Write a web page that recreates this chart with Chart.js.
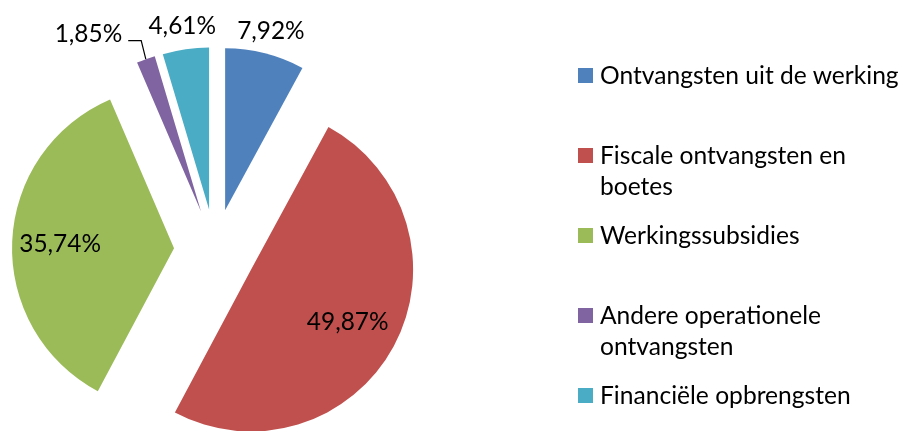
<!DOCTYPE html>
<html><head><meta charset="utf-8">
<script src="https://cdn.jsdelivr.net/npm/chart.js@4.4.1/dist/chart.umd.min.js"></script>
<style>
html,body{margin:0;padding:0;background:#fff;overflow:hidden;}
#wrap{position:relative;width:902px;height:431px;overflow:hidden;}
#chart{position:absolute;left:0;top:0;}
#legend{position:absolute;left:0;top:0;width:902px;height:431px;pointer-events:none;}
.item{position:absolute;left:578px;width:324px;font-family:Lato,"Open Sans",sans-serif;font-size:24.6px;line-height:31px;color:#000;}
.sw{position:absolute;left:0;top:8.7px;width:15px;height:15px;}
.tx{position:absolute;left:22px;top:0;width:310px;white-space:normal;}
</style></head>
<body><div id="wrap"><canvas id="chart" width="902" height="431"></canvas><div id="legend"></div></div>
<script>
const categories = ['Ontvangsten uit de werking','Fiscale ontvangsten en boetes','Werkingssubsidies','Andere operationele ontvangsten','Financiële opbrengsten'];
const shares = [7.92, 49.87, 35.74, 1.85, 4.61];
const shareLabels = ['7,92%','49,87%','35,74%','1,85%','4,61%'];
const sliceColors = ['#4F81BD','#C0504D','#9BBB59','#8064A2','#4BACC6'];

const PIE_RADIUS = 162, EXPLODE = 41;
const FONT_PX = 24.4;
const FONT = FONT_PX + 'px Lato, "Open Sans", sans-serif';
const CAP = 0.717 * FONT_PX;
const labelPlacement = [
  {mode:'outside', gap:24},
  {mode:'inside', f:0.677},
  {mode:'inside', f:0.704},
  {mode:'callout', elbow:[-4.6,-18.5], tail:-13, textGap:6},
  {mode:'outside', gap:24}
];
const legendTops = [68,148,228,308,388];

const explodePlugin = {
  id:'explode',
  beforeDatasetDraw(chart, args){
    const ctx = chart.ctx;
    args.meta.data.forEach(arc => {
      const mid = (arc.startAngle + arc.endAngle)/2;
      ctx.save();
      ctx.translate(Math.cos(mid)*EXPLODE, Math.sin(mid)*EXPLODE);
      arc.draw(ctx);
      ctx.restore();
    });
    return false;
  },
  afterDatasetsDraw(chart){
    const ctx = chart.ctx;
    const meta = chart.getDatasetMeta(0);
    ctx.save();
    ctx.font = FONT;
    ctx.fillStyle = '#000';
    ctx.textBaseline = 'alphabetic';
    meta.data.forEach((arc, i) => {
      const mid = (arc.startAngle + arc.endAngle)/2;
      const cx = arc.x + Math.cos(mid)*EXPLODE, cy = arc.y + Math.sin(mid)*EXPLODE;
      const r = arc.outerRadius;
      const p = labelPlacement[i];
      if (p.mode === 'outside' || p.mode === 'inside') {
        const d = p.mode === 'outside' ? r + p.gap : r * p.f;
        const x = cx + Math.cos(mid)*d, y = cy + Math.sin(mid)*d;
        ctx.textAlign = 'center';
        ctx.fillText(shareLabels[i], x, y + CAP/2);
      } else {
        const px = cx + Math.cos(mid)*r, py = cy + Math.sin(mid)*r;
        const ex = px + p.elbow[0], ey = py + p.elbow[1];
        const tx = ex + p.tail;
        ctx.strokeStyle = '#000';
        ctx.lineWidth = 1.2;
        ctx.beginPath();
        ctx.moveTo(px, py); ctx.lineTo(ex, ey); ctx.lineTo(tx, ey);
        ctx.stroke();
        ctx.textAlign = 'right';
        ctx.fillText(shareLabels[i], tx - p.textGap, ey - 7.3 + CAP/2);
      }
    });
    ctx.restore();
  }
};

new Chart(document.getElementById('chart'), {
  type:'pie',
  data:{
    labels: categories,
    datasets:[{
      data: shares,
      backgroundColor: sliceColors,
      borderWidth: 0,
      radius: PIE_RADIUS
    }]
  },
  options:{
    responsive:false,
    animation:false,
    events:[],
    layout:{padding:{left:0,right:472,top:69,bottom:0}},
    plugins:{legend:{display:false}, tooltip:{enabled:false}}
  },
  plugins:[explodePlugin]
});

const legendEl = document.getElementById('legend');
categories.forEach((c, i) => {
  const item = document.createElement('div');
  item.className = 'item';
  item.style.top = (legendTops[i] - 8.7) + 'px';
  const sw = document.createElement('span');
  sw.className = 'sw';
  sw.style.background = sliceColors[i];
  const tx = document.createElement('div');
  tx.className = 'tx';
  tx.textContent = c;
  item.appendChild(sw); item.appendChild(tx);
  legendEl.appendChild(item);
});
</script>
</body></html>
